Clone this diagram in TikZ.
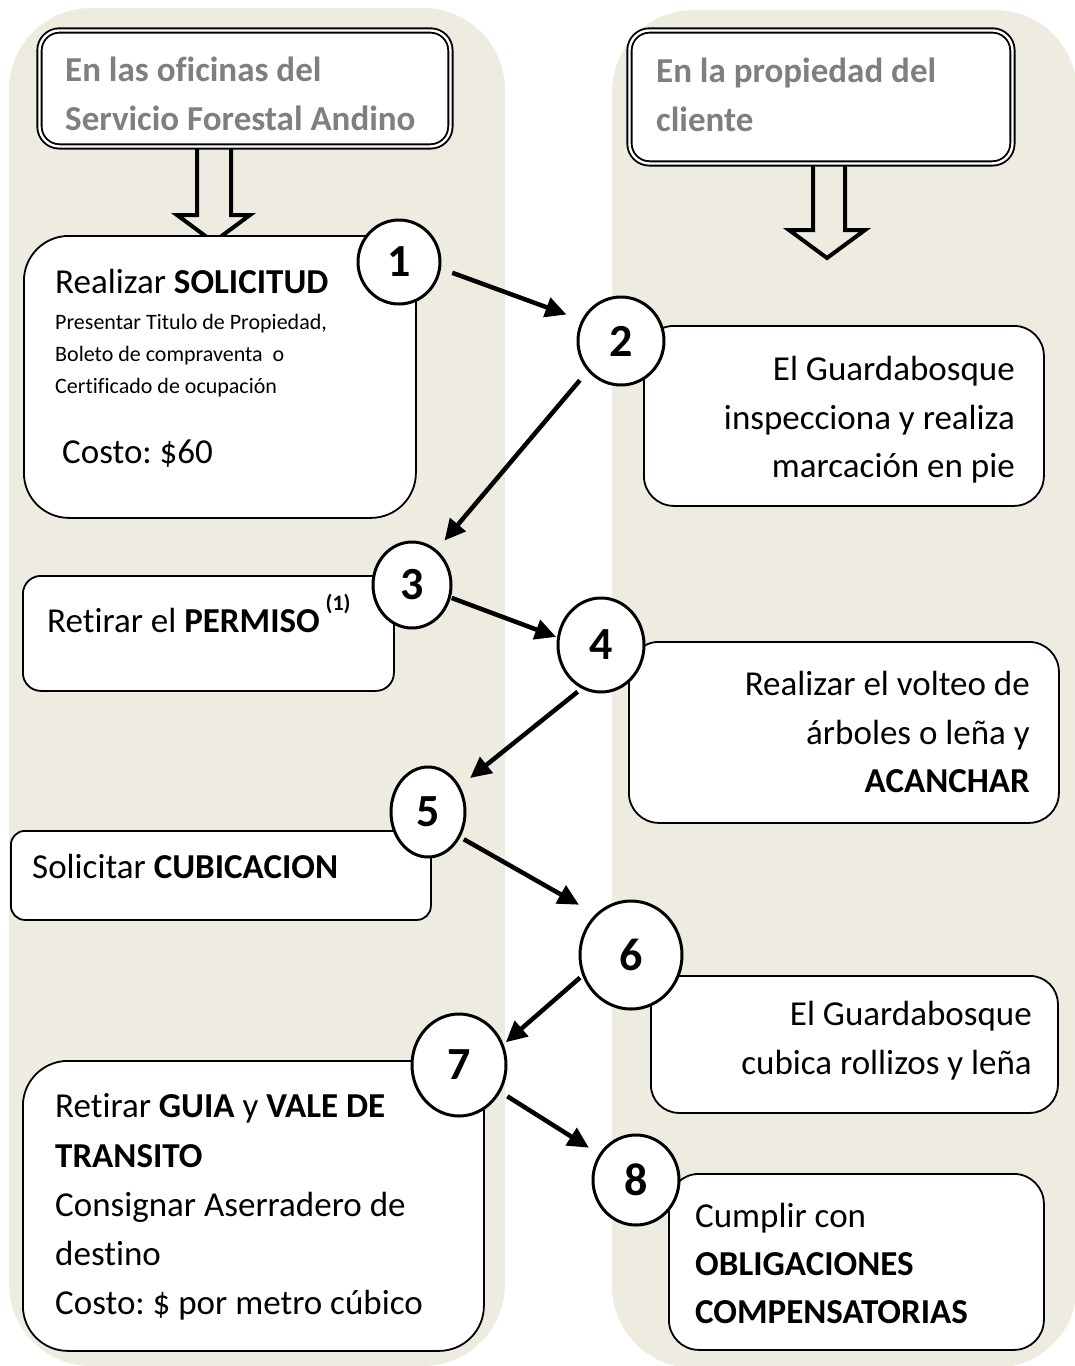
\documentclass[tikz,border=0pt]{standalone}
\usepackage{fontspec}
\setmainfont{Carlito}[Ligatures=NoCommon]
\usetikzlibrary{arrows.meta,shapes.geometric}
\definecolor{panel}{HTML}{EEECE1}
\definecolor{hdrgray}{HTML}{7F7F7F}
\newcommand{\bigtxt}{\fontsize{35}{42}\selectfont}
\newcommand{\smalltxt}{\fontsize{22}{26}\selectfont}
\frenchspacing
\begin{document}
\begin{tikzpicture}[x=1pt,y=-1pt,
  panelbg/.style={fill=panel, draw=none, rounded corners=82pt},
  hdr/.style={rectangle, rounded corners=20pt, draw=black, fill=white, line width=1.9pt, double=white, double distance=2.4pt, inner sep=0pt, anchor=north west},
  stepbox/.style={rectangle, draw=black, fill=white, line width=1.8pt, inner sep=0pt, anchor=north west},
  num/.style={ellipse, draw=black, fill=white, line width=3pt, inner sep=0pt, font=\fontsize{46}{46}\selectfont\bfseries},
  conn/.style={line width=4.5pt, -{Triangle[length=21pt,width=20pt]}},
  blockarr/.style={draw=black, fill=panel, line width=4pt, line join=miter},
  hdrtxt/.style={anchor=base west, inner sep=0pt, text=hdrgray, font=\bigtxt\bfseries},
  lt/.style={anchor=base west, inner sep=0pt, font=\bigtxt},
  rt/.style={anchor=base east, inner sep=0pt, font=\bigtxt},
  st/.style={anchor=base west, inner sep=0pt, font=\smalltxt}
]
\useasboundingbox (0,0) rectangle (1075,1366);
\clip (0,0) rectangle (1075,1366);

% panels
\fill[panelbg] (9,8) rectangle (505,1366);
\fill[panelbg] (612,10) rectangle (1077,1368);

% block arrows
\draw[blockarr] (197,146) -- (197,215) -- (177,215) -- (213.5,242) -- (250,215) -- (231,215) -- (231,146) -- cycle;
\draw[blockarr] (813,160) -- (813,230) -- (789,230) -- (827,258) -- (865,230) -- (845,230) -- (845,160) -- cycle;

% headers
\node[hdr, minimum width=411pt, minimum height=116pt] (hL) at (38.5,29.5) {};
\node[hdr, minimum width=383pt, minimum height=133pt] (hR) at (628.5,29.5) {};
\node[hdrtxt] (hL1) at (65,81) {En las oficinas del};
\node[hdrtxt] (hL2) at (65,130) {Servicio Forestal Andino};
\node[hdrtxt] (hR1) at (656,82) {En la propiedad del};
\node[hdrtxt] (hR2) at (656,131) {cliente};

% step boxes
\node[stepbox, rounded corners=45pt, minimum width=392pt, minimum height=282pt] (b1) at (23,235) {};
\node[stepbox, rounded corners=30pt, minimum width=400pt, minimum height=180pt] (b2) at (643,325) {};
\node[stepbox, rounded corners=18pt, minimum width=371pt, minimum height=115pt] (b3) at (22,575) {};
\node[stepbox, rounded corners=30pt, minimum width=430pt, minimum height=181pt] (b4) at (628,641) {};
\node[stepbox, rounded corners=14pt, minimum width=420pt, minimum height=89pt] (b5) at (10,830) {};
\node[stepbox, rounded corners=28pt, minimum width=407pt, minimum height=137pt] (b6) at (650,975) {};
\node[stepbox, rounded corners=45pt, minimum width=461pt, minimum height=290pt] (b7) at (22,1060) {};
\node[stepbox, rounded corners=30pt, minimum width=375pt, minimum height=176pt] (b8) at (668,1173) {};

% texts
\node[lt] (t1a) at (55,293) {Realizar \textbf{SOLICITUD}};
\node[st] (t1b) at (55,329) {Presentar Titulo de Propiedad,};
\node[st] (t1c) at (55,361) {Boleto de compraventa\ \ o};
\node[st] (t1d) at (55,393) {Certificado de ocupación};
\node[lt] (t1e) at (62,463) {Costo: \$60};

\node[rt] (t2a) at (1015,380) {El Guardabosque};
\node[rt] (t2b) at (1015,429) {inspecciona y realiza};
\node[rt] (t2c) at (1015,477) {marcación en pie};

\node[lt] (t3a) at (47,632) {Retirar el \textbf{PERMISO}\,\raisebox{22pt}{\fontsize{22}{22}\selectfont\bfseries (1)}};

\node[rt] (t4a) at (1030,695) {Realizar el volteo de};
\node[rt] (t4b) at (1030,744) {árboles o leña y};
\node[rt] (t4c) at (1030,792) {\textbf{ACANCHAR}};

\node[lt] (t5a) at (32,878) {Solicitar \textbf{CUBICACION}};

\node[rt] (t6a) at (1032,1025) {El Guardabosque};
\node[rt] (t6b) at (1032,1074) {cubica rollizos y leña};

\node[lt] (t7a) at (55,1117) {Retirar \textbf{GUIA} y \textbf{VALE DE}};
\node[lt] (t7b) at (55,1167) {\textbf{TRANSITO}};
\node[lt] (t7c) at (55,1216) {Consignar Aserradero de};
\node[lt] (t7d) at (55,1265) {destino};
\node[lt] (t7e) at (55,1314) {Costo: \$ por metro cúbico};

\node[lt] (t8a) at (695,1227) {Cumplir con};
\node[lt] (t8b) at (695,1275) {\textbf{OBLIGACIONES}};
\node[lt] (t8c) at (695,1323) {\textbf{COMPENSATORIAS}};

% number circles
\node[num, minimum width=82pt, minimum height=84pt] (c1) at (399,262) {1};
\node[num, minimum width=86pt, minimum height=88pt] (c2) at (621,341) {2};
\node[num, minimum width=78pt, minimum height=86pt] (c3) at (412,585) {3};
\node[num, minimum width=86pt, minimum height=94pt] (c4) at (601,645) {4};
\node[num, minimum width=74pt, minimum height=90pt] (c5) at (428,812) {5};
\node[num, minimum width=102pt, minimum height=108pt] (c6) at (631,955) {6};
\node[num, minimum width=94pt, minimum height=102pt] (c7) at (459,1065) {7};
\node[num, minimum width=86pt, minimum height=90pt] (c8) at (636,1180) {8};

% connectors
\draw[conn, shorten <=12pt, shorten >=16pt] (c1.-9) -- (c2.152);
\draw[conn, shorten <=12pt, shorten >=12pt] (c2.222) -- (c3.55);
\draw[conn, shorten <=1pt, shorten >=1pt] (c3.-18) -- (c4.170);
\draw[conn, shorten <=5pt, shorten >=13pt] (c4.-114) -- (c5.39);
\draw[conn, shorten <=4pt, shorten >=19pt] (c5.-38) -- (c6.131);
\draw[conn, shorten <=3pt, shorten >=3pt] (c6.203) -- (c7.25);
\draw[conn, shorten <=8pt, shorten >=12pt] (c7.-33) -- (c8.145);
\end{tikzpicture}
\end{document}
